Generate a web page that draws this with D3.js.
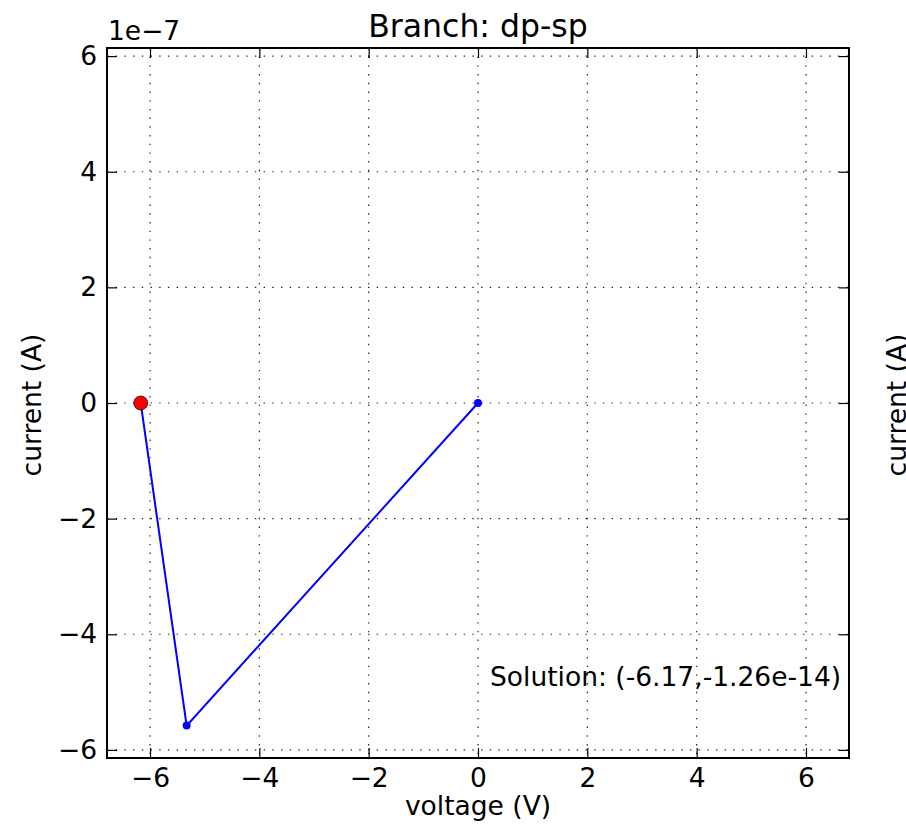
<!DOCTYPE html>
<html>
<head>
<meta charset="utf-8">
<script src="https://cdn.jsdelivr.net/npm/d3@7/dist/d3.min.js"></script>
<style>
  body { margin: 0; background: #fff; }
  text { font-family: "DejaVu Sans", sans-serif; fill: #000; }
</style>
</head>
<body>
<svg id="chart" width="906" height="828"></svg>
<script>
/******************** data ********************/
var voltage = [0, -5.33, -6.17];
var current = [0, -5.58e-7, -1.26e-14];
var solution = [-6.17, -1.26e-14];
var xTicks = [-6, -4, -2, 0, 2, 4, 6];
var yTicks = [-6, -4, -2, 0, 2, 4, 6];   // in units of 1e-7
var titleText = "Branch: dp-sp";

/******************** layout ********************/
var margin = {top: 48, left: 107, right: 57, bottom: 70};
var W = 906, H = 828;
var w = W - margin.left - margin.right,
    h = H - margin.top - margin.bottom;
var fs = 26.5;

var svg = d3.select("#chart");
var g = svg.append("g").attr("transform", "translate(" + margin.left + "," + margin.top + ")");

var x = d3.scaleLinear().domain([-6.787, 6.787]).range([0, w]);
var y = d3.scaleLinear().domain([-6.14e-7, 6.14e-7]).range([h, 0]);

var fmt = function(v){ return v < 0 ? "\u2212" + Math.abs(v) : "" + v; };

// grid
g.append("g").selectAll("line").data(xTicks).enter().append("line")
	.attr("x1", function(d){ return x(d); }).attr("x2", function(d){ return x(d); })
	.attr("y1", 0).attr("y2", h)
	.attr("stroke", "#222").attr("stroke-width", 1.2).attr("stroke-dasharray", "1.4,7.3");
g.append("g").selectAll("line").data(yTicks).enter().append("line")
	.attr("y1", function(d){ return y(d*1e-7); }).attr("y2", function(d){ return y(d*1e-7); })
	.attr("x1", 0).attr("x2", w)
	.attr("stroke", "#222").attr("stroke-width", 1.2).attr("stroke-dasharray", "1.4,7.3");

// axes (ticks pointing inward, like classic matplotlib)
var tl = 10;
var xAxisB = d3.axisBottom(x).tickValues(xTicks).tickSizeInner(-tl).tickSizeOuter(0).tickPadding(10).tickFormat(fmt);
var xAxisT = d3.axisTop(x).tickValues(xTicks).tickSizeInner(-tl).tickSizeOuter(0).tickFormat("");
var yAxisL = d3.axisLeft(y).tickValues(yTicks.map(function(d){ return d*1e-7; })).tickSizeInner(-tl).tickSizeOuter(0).tickPadding(10)
	.tickFormat(function(d){ return fmt(Math.round(d*1e7)); });
var yAxisR = d3.axisRight(y).tickValues(yTicks.map(function(d){ return d*1e-7; })).tickSizeInner(-tl).tickSizeOuter(0).tickFormat("");

function styleAxis(sel){
	sel.select(".domain").remove();
	sel.selectAll(".tick line").attr("stroke", "#000").attr("stroke-width", 1.2);
	sel.selectAll(".tick text").attr("font-size", fs).attr("font-family", "DejaVu Sans");
}
g.append("g").attr("transform", "translate(0," + h + ")").call(xAxisB).call(styleAxis);
g.append("g").call(xAxisT).call(styleAxis);
g.append("g").call(yAxisL).call(styleAxis);
g.append("g").attr("transform", "translate(" + w + ",0)").call(yAxisR).call(styleAxis);

// frame
g.append("rect").attr("x", 0).attr("y", 0).attr("width", w).attr("height", h)
	.attr("fill", "none").attr("stroke", "#000").attr("stroke-width", 2);

// series
var pts = voltage.map(function(v, i){ return [v, current[i]]; });
var line = d3.line().x(function(d){ return x(d[0]); }).y(function(d){ return y(d[1]); });
g.append("path").datum(pts).attr("d", line)
	.attr("fill", "none").attr("stroke", "#0000ff").attr("stroke-width", 2);
g.append("g").selectAll("circle").data(pts).enter().append("circle")
	.attr("cx", function(d){ return x(d[0]); }).attr("cy", function(d){ return y(d[1]); })
	.attr("r", 4).attr("fill", "#0000ff");

// solution marker
g.append("circle").attr("cx", x(solution[0])).attr("cy", y(solution[1])).attr("r", 7)
	.attr("fill", "#ff0000").attr("stroke", "#000").attr("stroke-width", 0.7);

g.append("text").attr("x", x(0.22)).attr("y", y(-4.9e-7))
	.attr("font-size", fs)
	.text("Solution: (" + solution[0].toFixed(2) + "," + solution[1].toExponential(2) + ")");

// texts
svg.append("text").attr("x", margin.left + w/2).attr("y", 37).attr("text-anchor", "middle")
	.attr("font-size", 31.5).text(titleText);
svg.append("text").attr("x", margin.left + 1).attr("y", 40).attr("font-size", fs).text("1e\u22127");
svg.append("text").attr("x", margin.left + w/2).attr("y", 815).attr("text-anchor", "middle")
	.attr("font-size", fs).text("voltage (V)");
svg.append("text").attr("transform", "translate(41,405) rotate(-90)").attr("text-anchor", "middle")
	.attr("font-size", fs).text("current (A)");
// neighbouring subplot's label, cut by the figure edge
svg.append("text").attr("transform", "translate(906,405) rotate(-90)").attr("text-anchor", "middle")
	.attr("font-size", fs).text("current (A)");
</script>
</body>
</html>
